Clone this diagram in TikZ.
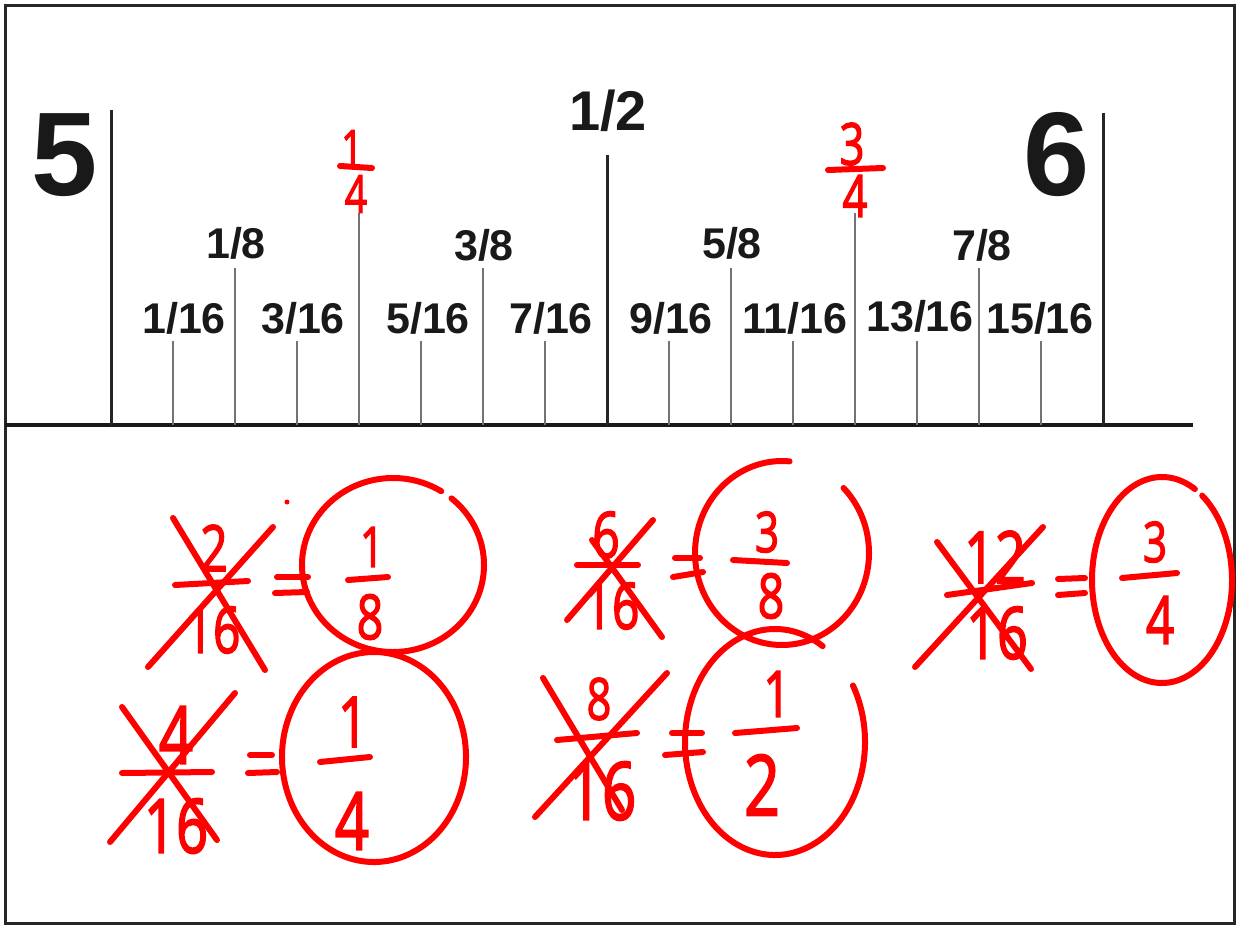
\documentclass[tikz,border=0pt]{standalone}
\usepackage{fontspec}
\setmainfont{Liberation Sans}
\newfontfamily\handfont[FakeBold=2.5]{Open Sans}
\usetikzlibrary{calc}

\begin{document}
\begin{tikzpicture}[x=1pt,y=-1pt,
  frameline/.style={draw=black!85,line width=3pt},
  rulerbase/.style={draw=black!90,line width=4pt},
  majortick/.style={draw=black!85,line width=3pt},
  minortick/.style={draw=black!55,line width=2pt},
  marklabel/.style={anchor=base,inner sep=0pt,text=black!90,font=\bfseries\fontsize{#1}{#1}\selectfont},
  ink/.style={draw=red,line width=6pt,line cap=round,line join=round},
  inkdigit/.style={text=red,inner sep=0pt,xscale=0.75,font=\handfont\fontsize{#1}{#1}\selectfont}]
\useasboundingbox (0,0) rectangle (1238,926);
\draw[frameline] (5,5) rectangle (1234,923);

% ruler
\draw[rulerbase] (5,425) -- (1193,425);
\foreach \k in {1,3,...,15} \draw[minortick] (111+62*\k,425) -- (111+62*\k,341);
\foreach \k in {2,6,10,14} \draw[minortick] (111+62*\k,425) -- (111+62*\k,268);
\foreach \k in {4,12} \draw[minortick] (111+62*\k,425) -- (111+62*\k,213);
\draw[majortick] (607,425) -- (607,155);
\draw[majortick] (111,425) -- (111,110);
\draw[majortick] (1103,425) -- (1103,113);

\node[marklabel=119] (five) at (65,195) {5};
\node[marklabel=119] (six) at (1057,195) {6};
\node[marklabel=56] (half) at (608,130) {1/2};
\node[marklabel=43] (eighth1) at (236,258) {1/8};
\node[marklabel=43] (eighth3) at (484,260) {3/8};
\node[marklabel=43] (eighth5) at (732,258) {5/8};
\node[marklabel=43] (eighth7) at (982,260) {7/8};
\node[marklabel=43] (sixt1) at (184,333) {1/16};
\node[marklabel=43] (sixt3) at (303,333) {3/16};
\node[marklabel=43] (sixt5) at (428,333) {5/16};
\node[marklabel=43] (sixt7) at (551,333) {7/16};
\node[marklabel=43] (sixt9) at (671,333) {9/16};
\node[marklabel=43] (sixt11) at (795,333) {11/16};
\node[marklabel=43] (sixt13) at (920,331) {13/16};
\node[marklabel=43] (sixt15) at (1040,333) {15/16};

% red notes above the ruler
\node[inkdigit=50] (qtop) at (352,148) {1};
\draw[ink] (340,166) -- (372,168);
\node[inkdigit=52] (qbot) at (356,194) {4};
\node[inkdigit=58] (tqtop) at (852,144) {3};
\draw[ink] (828,170) -- (883,168);
\node[inkdigit=58] (tqbot) at (855,196) {4};

% 2/16 = 1/8
\node[inkdigit=64] (aNum) at (214,548) {2};
\draw[ink] (175,585) -- (248,581);
\node[inkdigit=64] (aDen) at (213,630) {16};
\draw[ink] (173,518) -- (265,670);
\draw[ink] (273,527) -- (148,667);
\draw[ink] (277,577) -- (308,577);
\draw[ink] (275,593) -- (307,592);
\fill[red] (287,502) circle[radius=2.5];
\node[inkdigit=56] (aRnum) at (372,547) {1};
\draw[ink] (348,580) -- (388,577);
\node[inkdigit=62] (aRden) at (370,617) {8};
\draw[ink] (393,565) ++(-50:91 and 87) arc[start angle=-50,end angle=302,x radius=91,y radius=87];

% 4/16 = 1/4
\node[inkdigit=80] (bNum) at (176,735) {4};
\draw[ink] (122,773) -- (212,772);
\node[inkdigit=75] (bDen) at (176,826) {16};
\draw[ink] (122,707) -- (217,840);
\draw[ink] (235,693) -- (110,842);
\draw[ink] (250,755) -- (272,755);
\draw[ink] (248,773) -- (277,772);
\node[inkdigit=70] (bRnum) at (353,722) {1};
\draw[ink] (320,762) -- (370,757);
\node[inkdigit=80] (bRden) at (352,821) {4};
\draw[ink] (374,757) ++(-65:92 and 105) arc[start angle=-65,end angle=300,x radius=92,y radius=105];

% 6/16 = 3/8
\node[inkdigit=64] (cNum) at (606,535) {6};
\draw[ink] (577,565) -- (638,565);
\node[inkdigit=64] (cDen) at (612,606) {16};
\draw[ink] (592,540) -- (662,637);
\draw[ink] (653,520) -- (567,620);
\draw[ink] (675,558) -- (700,558);
\draw[ink] (673,577) -- (703,572);
\node[inkdigit=56] (cRnum) at (767,532) {3};
\draw[ink] (733,560) -- (787,563);
\node[inkdigit=62] (cRden) at (771,596) {8};
\draw[ink] (782,553) ++(-45:87 and 92) arc[start angle=-45,end angle=275,x radius=87,y radius=92];

% 8/16 = 1/2
\node[inkdigit=58] (dNum) at (599,699) {8};
\draw[ink] (557,740) -- (637,733);
\node[inkdigit=80] (dDen) at (602,791) {16};
\draw[ink] (543,678) -- (622,810);
\draw[ink] (667,673) -- (535,817);
\draw[ink] (672,733) -- (702,733);
\draw[ink] (665,755) -- (703,752);
\node[inkdigit=64] (dRnum) at (777,694) {1};
\draw[ink] (735,733) -- (797,728);
\node[inkdigit=84] (dRden) at (762,785) {2};
\draw[ink] (775,742) ++(-30:90 and 113) arc[start angle=-30,end angle=302,x radius=90,y radius=113];

% 12/16 = 3/4
\node[inkdigit=72] (eNum) at (995,557) {12};
\draw[ink] (947,595) -- (1032,583);
\node[inkdigit=72] (eDen) at (997,633) {16};
\draw[ink] (937,542) -- (1031,669);
\draw[ink] (1043,527) -- (915,667);
\draw[ink] (1058,579) -- (1085,578);
\draw[ink] (1058,595) -- (1085,593);
\node[inkdigit=56] (eRnum) at (1155,542) {3};
\draw[ink] (1122,578) -- (1177,573);
\node[inkdigit=66] (eRden) at (1160,620) {4};
\draw[ink] (1162,580) ++(-55:70 and 103) arc[start angle=-55,end angle=298,x radius=70,y radius=103];
\end{tikzpicture}
\end{document}
